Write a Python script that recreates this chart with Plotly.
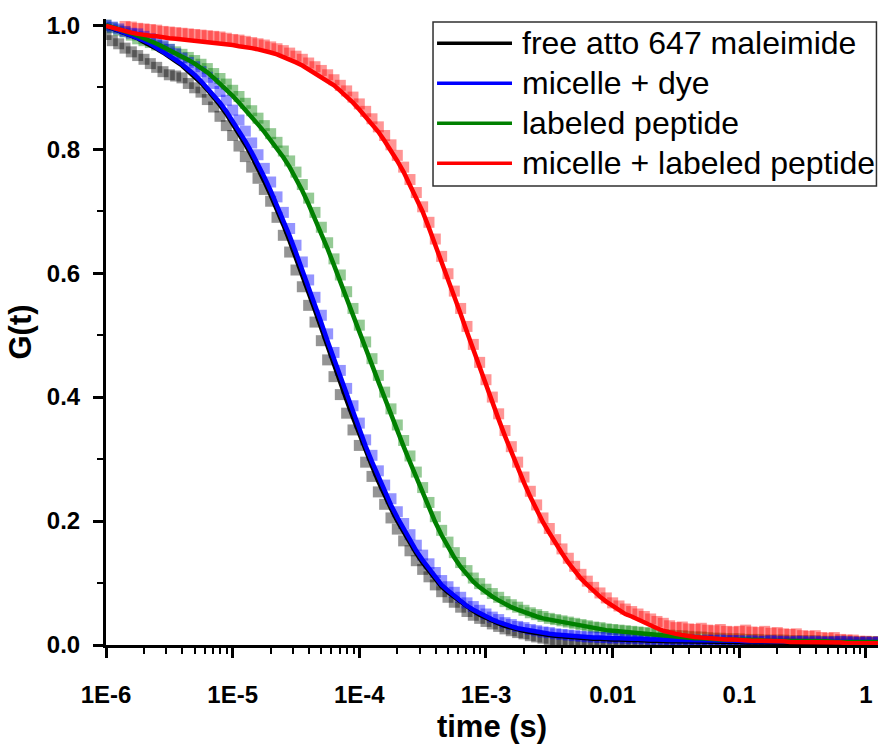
import plotly.graph_objects as go

# ---------------- data ----------------
T_MANT = [1.0, 1.122, 1.259, 1.413, 1.585, 1.778, 1.995, 2.239, 2.512, 2.818,
          3.162, 3.548, 3.981, 4.467, 5.012, 5.623, 6.31, 7.079, 7.943, 8.913]
T_DECADES = [-6, -5, -4, -3, -2, -1]
T_LAST = [1.0, 1.122, 1.259]
time_s = [m * 10.0 ** d for d in T_DECADES for m in T_MANT] + T_LAST

black_fit = [
    .999, .995, .991, .987, .983, .979, .973, .968, .962, .956, .950, .942, .935, .926, .917, .907, .896, .884, .871, .857,
    .841, .825, .808, .789, .770, .748, .726, .703, .678, .652, .625, .597, .569, .540, .511, .481, .452, .423, .395, .367,
    .340, .314, .289, .264, .241, .220, .200, .182, .164, .148, .133, .119, .105, .094, .085, .077, .069, .061, .055, .049,
    .044, .039, .035, .031, .028, .025, .023, .021, .019, .017, .016, .015, .014, .013, .012, .011, .011, .010, .010, .009,
    .009, .009, .008, .008, .008, .007, .007, .007, .006, .006, .006, .006, .006, .005, .005, .005, .005, .005, .005, .005,
    .005, .004, .004, .004, .004, .004, .004, .004, .004, .004, .004, .003, .003, .003, .003, .003, .003, .003, .003, .003,
    .003, .003, .003]
black_data = [
    .985, .975, .970, .963, .957, .951, .945, .938, .932, .925, .920, .918, .915, .906, .899, .892, .880, .868, .853, .838,
    .822, .805, .788, .771, .753, .735, .716, .690, .661, .634, .605, .578, .548, .521, .491, .460, .433, .404, .374, .347,
    .322, .295, .272, .247, .227, .205, .187, .168, .152, .136, .122, .110, .097, .086, .077, .069, .061, .054, .048, .043,
    .038, .034, .030, .026, .023, .020, .018, .015, .013, .011, .009, .008, .007, .006, .005, .005, .004, .004, .004, .003,
    .003, .004, .003, .003, .004, .003, .003, .003, .004, .003, .003, .003, .003, .004, .003, .003, .003, .003, .003, .003,
    .003, .003, .003, .003, .003, .003, .003, .003, .003, .003, .003, .003, .003, .003, .003, .003, .003, .003, .003, .003,
    .003, .003, .003]
blue_fit = [
    1.000, .996, .992, .988, .984, .980, .975, .970, .964, .958, .952, .944, .937, .929, .920, .910, .899, .888, .875, .861,
    .846, .830, .813, .795, .776, .755, .733, .710, .685, .660, .633, .606, .577, .549, .520, .490, .461, .432, .403, .375,
    .348, .321, .296, .271, .248, .226, .206, .187, .169, .152, .137, .123, .109, .097, .088, .079, .071, .063, .057, .051,
    .046, .041, .037, .033, .030, .027, .025, .023, .021, .019, .018, .017, .016, .015, .014, .013, .013, .012, .012, .011,
    .011, .011, .010, .010, .010, .009, .009, .009, .008, .008, .008, .008, .008, .007, .007, .007, .007, .007, .007, .007,
    .007, .006, .006, .006, .006, .006, .006, .006, .006, .006, .006, .005, .005, .005, .005, .005, .005, .005, .005, .005,
    .005, .005, .005]
blue_data = [
    1.000, .997, .994, .990, .987, .986, .982, .978, .972, .967, .961, .954, .947, .940, .933, .925, .916, .906, .893, .879,
    .863, .847, .829, .810, .791, .769, .747, .723, .698, .672, .645, .618, .589, .561, .532, .502, .472, .443, .414, .386,
    .358, .331, .306, .281, .258, .236, .215, .196, .178, .161, .145, .131, .117, .104, .094, .085, .077, .068, .062, .056,
    .050, .045, .041, .036, .033, .030, .028, .025, .023, .021, .020, .018, .017, .016, .015, .014, .013, .013, .012, .012,
    .011, .012, .010, .011, .010, .010, .009, .010, .008, .009, .008, .009, .008, .008, .007, .008, .007, .008, .007, .007,
    .007, .006, .007, .006, .006, .007, .006, .006, .005, .006, .006, .005, .006, .005, .005, .005, .006, .005, .005, .004,
    .005, .004, .005]
green_fit = [
    1.000, .997, .994, .991, .987, .983, .979, .975, .970, .965, .960, .955, .950, .944, .938, .932, .924, .915, .906, .896,
    .886, .875, .864, .852, .840, .828, .815, .801, .787, .771, .753, .733, .711, .688, .664, .639, .613, .587, .560, .533,
    .506, .479, .452, .425, .398, .371, .345, .320, .295, .270, .245, .221, .198, .177, .158, .141, .126, .113, .102, .093,
    .085, .078, .072, .066, .061, .057, .053, .049, .046, .043, .041, .039, .037, .035, .033, .031, .029, .027, .026, .024,
    .023, .022, .021, .020, .019, .018, .017, .016, .015, .014, .013, .013, .012, .011, .011, .010, .010, .009, .009, .009,
    .008, .008, .008, .008, .007, .007, .007, .007, .007, .006, .006, .006, .006, .006, .006, .005, .005, .005, .005, .005,
    .005, .005, .005]
green_data = [
    1.000, .996, .992, .989, .984, .978, .975, .972, .968, .965, .961, .957, .953, .948, .943, .937, .930, .922, .914, .905,
    .895, .885, .874, .862, .850, .838, .825, .811, .797, .781, .763, .743, .721, .698, .674, .649, .623, .597, .570, .543,
    .516, .489, .462, .435, .408, .381, .355, .330, .305, .279, .254, .230, .207, .185, .166, .149, .133, .120, .108, .099,
    .090, .083, .077, .070, .065, .061, .056, .052, .049, .046, .043, .041, .039, .037, .035, .033, .031, .029, .028, .026,
    .025, .024, .023, .022, .021, .020, .019, .018, .017, .016, .015, .015, .014, .013, .013, .012, .011, .011, .010, .010,
    .010, .009, .009, .009, .008, .008, .008, .008, .007, .007, .007, .007, .007, .006, .006, .006, .006, .006, .005, .005,
    .005, .005, .005]
red_fit = [
    .999, .996, .994, .991, .988, .986, .984, .983, .982, .980, .979, .978, .977, .976, .975, .974, .973, .972, .971, .969,
    .968, .966, .965, .963, .961, .959, .956, .953, .949, .945, .940, .935, .929, .923, .917, .911, .903, .894, .885, .875,
    .864, .852, .840, .828, .813, .798, .781, .763, .743, .722, .699, .673, .646, .618, .590, .562, .534, .505, .476, .447,
    .419, .391, .364, .337, .311, .286, .262, .239, .218, .198, .181, .163, .148, .133, .120, .107, .097, .087, .078, .070,
    .063, .056, .050, .046, .041, .036, .031, .027, .023, .020, .018, .016, .014, .013, .012, .011, .010, .010, .009, .009,
    .008, .008, .007, .007, .007, .006, .006, .006, .005, .005, .005, .005, .004, .004, .004, .004, .004, .003, .003, .003,
    .003, .003, .003]
red_data = [
    None, None, None, .998, .997, .995, .994, .993, .992, .990, .989, .988, .987, .986, .985, .984, .983, .982, .981, .979,
    .977, .976, .974, .972, .970, .968, .965, .962, .959, .955, .950, .945, .939, .933, .927, .920, .912, .903, .894, .884,
    .873, .861, .849, .836, .822, .807, .790, .771, .751, .730, .707, .682, .655, .627, .599, .571, .543, .514, .485, .456,
    .428, .400, .373, .346, .320, .295, .271, .248, .226, .205, .188, .170, .155, .140, .127, .114, .103, .093, .084, .076,
    .068, .063, .058, .054, .050, .046, .042, .038, .035, .031, .028, .029, .026, .025, .027, .024, .023, .025, .022, .021,
    .022, .024, .021, .020, .022, .019, .020, .018, .017, .018, .015, .014, .015, .012, .011, .012, .009, .008, .008, .006,
    .006, .005, .005]

SERIES_NAMES = ["free atto 647 maleimide", "micelle + dye", "labeled peptide",
                "micelle + labeled peptide"]
X_TICK_VALS = [1e-6, 1e-5, 1e-4, 1e-3, 1e-2, 1e-1, 1.0]
X_TICK_TEXT = ["1E-6", "1E-5", "1E-4", "1E-3", "0.01", "0.1", "1"]
Y_TICK_VALS = [0.0, 0.2, 0.4, 0.6, 0.8, 1.0]
Y_TICK_TEXT = ["0.0", "0.2", "0.4", "0.6", "0.8", "1.0"]
X_MINOR = [m * 10.0 ** d for d in T_DECADES for m in range(2, 10)]
Y_MINOR = [0.1, 0.3, 0.5, 0.7, 0.9]

for arr in (black_fit, black_data, blue_fit, blue_data, green_fit, green_data, red_fit, red_data):
    assert len(arr) == len(time_s), len(arr)

# ---------------- figure ----------------
FONT = "Liberation Sans, Arial, sans-serif"
BLACK, BLUE, GREEN, RED = "#000000", "#0000ff", "#008000", "#ff0000"

fig = go.Figure()

for ys, col in [(black_data, BLACK), (green_data, GREEN), (red_data, RED), (blue_data, BLUE)]:
    fig.add_trace(go.Scatter(
        x=time_s, y=ys, mode="markers", showlegend=False, hoverinfo="skip",
        marker=dict(symbol="square", size=11, color=col, opacity=0.42, line=dict(width=0))))

for ys, col in [(black_fit, BLACK), (blue_fit, BLUE), (green_fit, GREEN), (red_fit, RED)]:
    fig.add_trace(go.Scatter(
        x=time_s, y=ys, mode="lines", showlegend=False, hoverinfo="skip",
        line=dict(color=col, width=4.5)))

axis_common = dict(
    showgrid=False, zeroline=False, showline=True, linewidth=3, linecolor="black",
    ticks="outside", ticklen=10, tickwidth=3, tickcolor="black",
    tickfont=dict(family=FONT, size=24, color="black", weight="bold"),
)

fig.update_layout(
    width=880, height=744,
    margin=dict(l=106, r=2, t=19, b=99),
    paper_bgcolor="white", plot_bgcolor="white",
    xaxis=dict(
        type="log", range=[-6, 0.095],
        tickmode="array", tickvals=X_TICK_VALS, ticktext=X_TICK_TEXT,
        ticklabelstandoff=16,
        minor=dict(tickmode="array", tickvals=X_MINOR, ticks="outside", ticklen=6,
                   tickwidth=2, tickcolor="black", showgrid=False),
        title=dict(text="time (s)", standoff=14,
                   font=dict(family=FONT, size=31, color="black", weight="bold")),
        **axis_common),
    yaxis=dict(
        range=[0, 1.01],
        tickmode="array", tickvals=Y_TICK_VALS, ticktext=Y_TICK_TEXT,
        ticklabelstandoff=8,
        minor=dict(tickmode="array", tickvals=Y_MINOR, ticks="outside", ticklen=6,
                   tickwidth=2, tickcolor="black", showgrid=False),
        title=dict(text="G(t)", standoff=6,
                   font=dict(family=FONT, size=31, color="black", weight="bold")),
        **axis_common),
)

# ---------------- legend drawn as a box with line samples ----------------
LEG_BOX = dict(x0=0.4236, x1=0.998, y0=0.7332, y1=0.9952)
LEG_ROWS = [0.9612, 0.8973, 0.8334, 0.7695]
LEG_LINE_X = (0.4288, 0.5259)
LEG_TEXT_X = 0.5363
fig.add_shape(type="rect", xref="paper", yref="paper", **LEG_BOX,
              line=dict(color="#303030", width=1.5), fillcolor="white", layer="above")
for name, col, yy in zip(SERIES_NAMES, [BLACK, BLUE, GREEN, RED], LEG_ROWS):
    fig.add_shape(type="line", xref="paper", yref="paper",
                  x0=LEG_LINE_X[0], x1=LEG_LINE_X[1], y0=yy, y1=yy,
                  line=dict(color=col, width=3.5), layer="above")
    fig.add_annotation(xref="paper", yref="paper", x=LEG_TEXT_X, y=yy,
                       xanchor="left", yanchor="middle", showarrow=False, text=name,
                       font=dict(family=FONT, size=32, color="black"))

fig.write_html("out.html")
